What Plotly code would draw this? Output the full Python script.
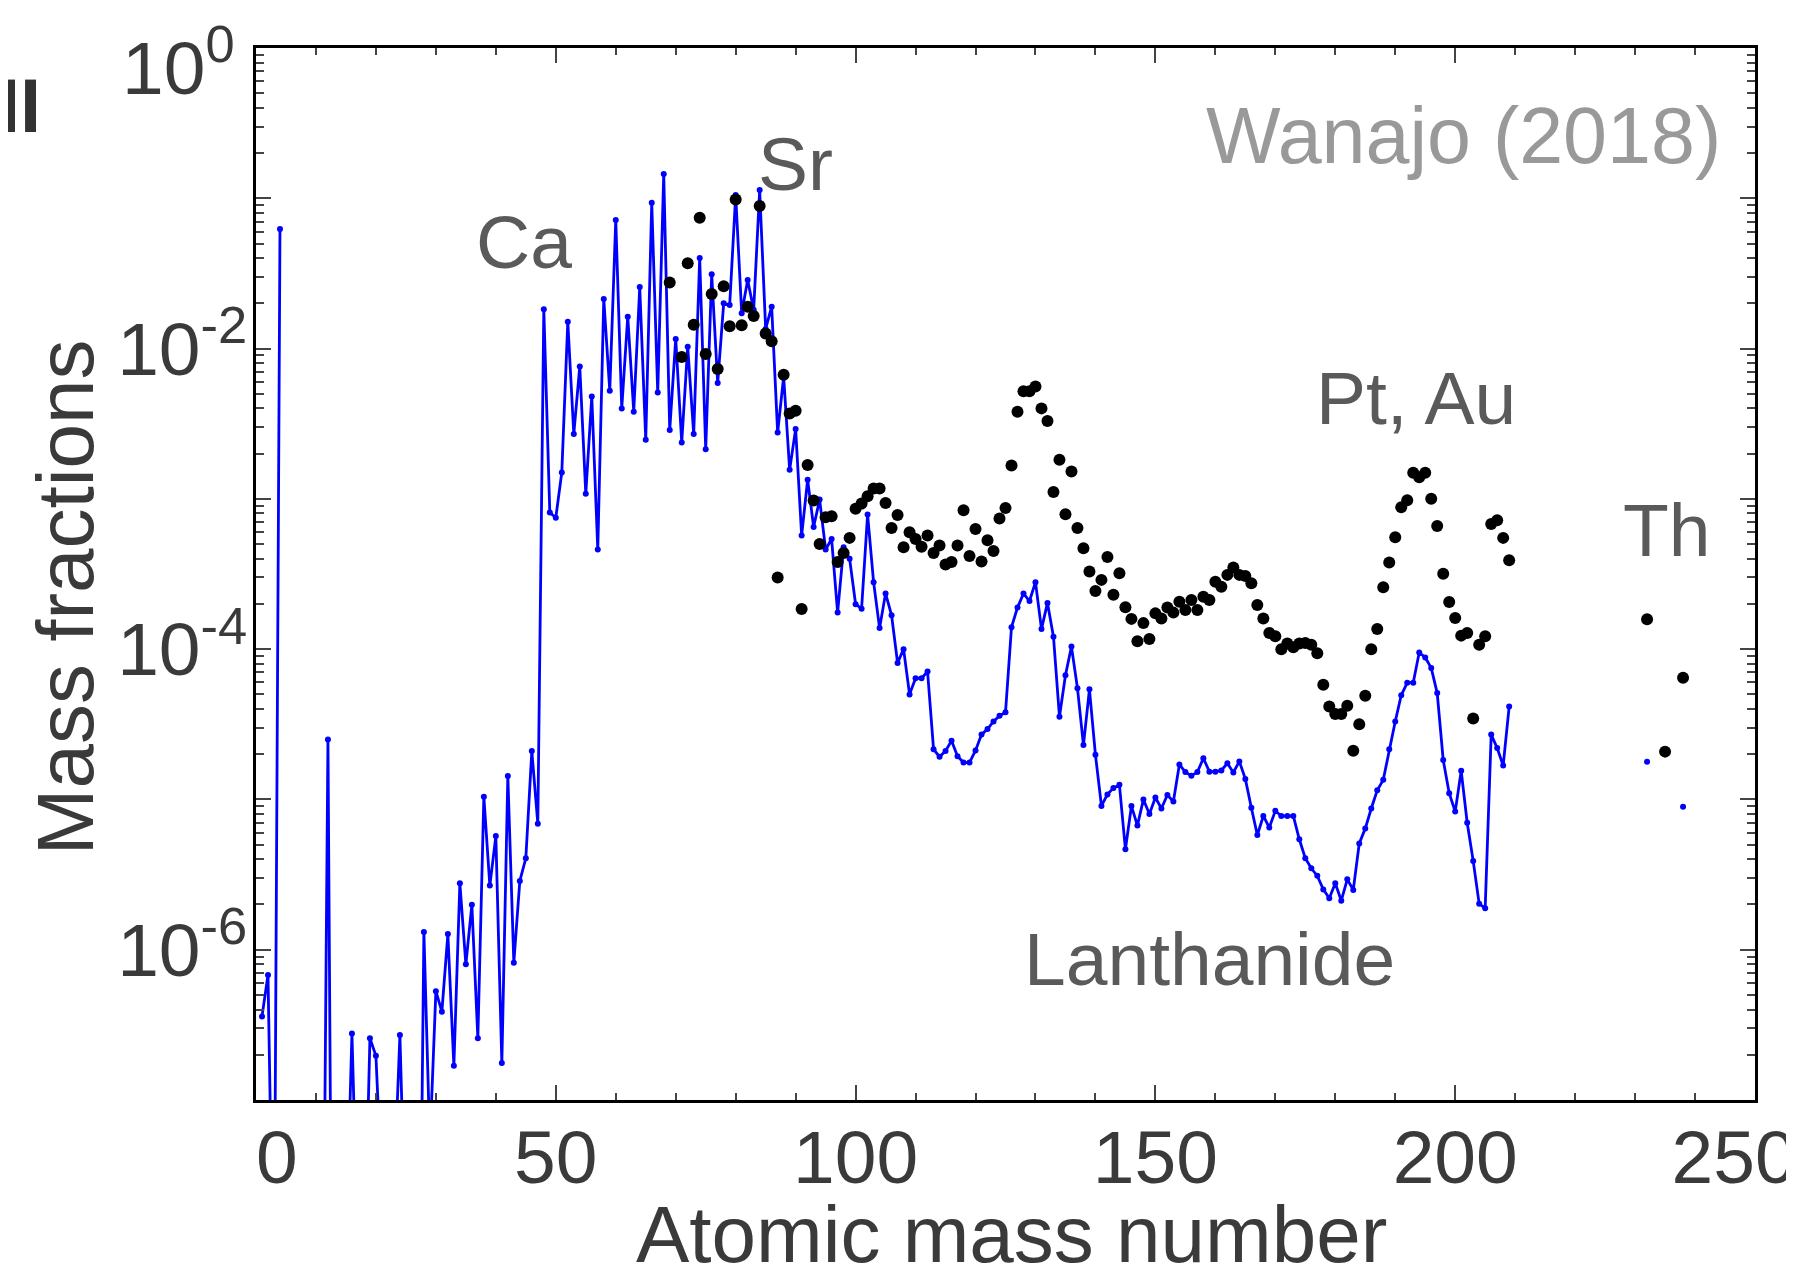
import plotly.graph_objects as go

# ---------------- data ----------------
# Blue line: model mass fractions vs atomic mass number (None = no nucleus / gap)
blue_A = list(range(1, 210)) + [210, 232, 233, 238]
blue_Y = [
    3.6e-7, 6.8e-7, 3e-9, 0.0625, None, 1e-10, 1e-10, 1e-10, 1e-10, 1e-10,      # 1-10
    4e-10, 2.5e-5, 2.5e-11, 1e-10, 1e-8, 2.77e-7, 1e-8, 6e-9, 2.58e-7, 1.97e-7,  # 11-20
    2.5e-8, 1e-9, 2.5e-8, 2.71e-7, 1e-8, 1e-9, 2.5e-10, 1.31e-6, 5e-8, 5.3e-7,   # 21-30
    3.87e-7, 1.27e-6, 1.69e-7, 2.77e-6, 8.0e-7, 1.99e-6, 2.58e-7, 1.04e-5, 2.67e-6, 5.7e-6,  # 31-40
    1.76e-7, 1.43e-5, 8.2e-7, 2.87e-6, 4.06e-6, 2.1e-5, 6.9e-6, 0.0183, 8.1e-4, 7.5e-4,  # 41-50
    1.5e-3, 0.0151, 2.7e-3, 7.6e-3, 1.08e-3, 4.8e-3, 4.6e-4, 0.0214, 5.25e-3, 0.0718,  # 51-60
    4.0e-3, 0.0163, 3.8e-3, 0.0257, 2.47e-3, 0.0935, 5.1e-3, 0.145, 2.87e-3, 0.0116,  # 61-70
    2.37e-3, 0.0103, 2.7e-3, 0.040, 2.14e-3, 0.0312, 5.9e-3, 0.020, 0.0195, 0.105,    # 71-80
    0.0172, 0.0286, 0.0181, 0.1135, 0.0135, 0.019, 2.76e-3, 6.5e-3, 1.56e-3, 2.92e-3,  # 81-90
    5.7e-4, 1.34e-3, 6.5e-4, 9.9e-4, 4.6e-4, 5.4e-4, 1.75e-4, 4.76e-4, 4.0e-4, 1.99e-4,  # 91-100
    1.86e-4, 7.86e-4, 2.79e-4, 1.38e-4, 2.35e-4, 1.68e-4, 8.1e-5, 1.0e-4, 5.0e-5, 6.4e-5,  # 101-110
    6.4e-5, 7.1e-5, 2.16e-5, 1.92e-5, 2.1e-5, 2.46e-5, 1.94e-5, 1.76e-5, 1.76e-5, 2.12e-5,  # 111-120
    2.7e-5, 2.94e-5, 3.3e-5, 3.6e-5, 3.8e-5, 1.4e-4, 1.89e-4, 2.35e-4, 2.09e-4, 2.79e-4,  # 121-130
    1.36e-4, 2.03e-4, 1.21e-4, 3.55e-5, 6.7e-5, 1.04e-4, 5.5e-5, 2.3e-5, 5.4e-5, 1.98e-5,  # 131-140
    9.05e-6, 1.08e-5, 1.19e-5, 1.25e-5, 4.66e-6, 9.05e-6, 6.7e-6, 1.0e-5, 8.0e-6, 1.03e-5,  # 141-150
    8.7e-6, 1.07e-5, 9.7e-6, 1.71e-5, 1.52e-5, 1.44e-5, 1.52e-5, 1.88e-5, 1.53e-5, 1.53e-5,  # 151-160
    1.56e-5, 1.74e-5, 1.51e-5, 1.79e-5, 1.37e-5, 8.8e-6, 5.8e-6, 7.76e-6, 6.5e-6, 8.4e-6,  # 161-170
    7.76e-6, 7.76e-6, 7.76e-6, 5.43e-6, 4.06e-6, 3.48e-6, 3.1e-6, 2.52e-6, 2.2e-6, 2.77e-6,  # 171-180
    2.12e-6, 2.94e-6, 2.5e-6, 5.1e-6, 6.4e-6, 8.7e-6, 1.15e-5, 1.35e-5, 2.16e-5, 3.3e-5,  # 181-190
    4.93e-5, 5.98e-5, 5.98e-5, 9.5e-5, 8.8e-5, 7.5e-5, 5.1e-5, 1.83e-5, 1.1e-5, 8.3e-6,  # 191-200
    1.55e-5, 7.0e-6, 3.9e-6, 2.02e-6, 1.89e-6, 2.7e-5, 2.2e-5, 1.68e-5, 4.15e-5,       # 201-209
    None, 1.78e-5, None, 8.95e-6,                                                     # gap, 232, gap, 238
]

# Black dots: reference (solar r-process) mass fractions
black_A = [69] + list(range(71, 210)) + [232, 235, 238]
black_Y = [
    0.0275,                                                                            # 69
    8.8e-3, 0.037, 0.0144, 0.0743, 9.2e-3, 0.0231, 7.3e-3, 0.026, 0.0141, 0.098,       # 71-80
    0.0143, 0.019, 0.0165, 0.089, 0.0126, 0.0112, 3.0e-4, 6.7e-3, 3.7e-3, 3.86e-3,     # 81-90
    1.85e-4, 1.68e-3, 9.75e-4, 5.0e-4, 7.55e-4, 7.65e-4, 3.8e-4, 4.37e-4, 5.5e-4, 8.6e-4,  # 91-100
    9.3e-4, 1.04e-3, 1.17e-3, 1.17e-3, 9.4e-4, 6.4e-4, 7.8e-4, 4.76e-4, 6.0e-4, 5.4e-4,  # 101-110
    4.8e-4, 5.7e-4, 4.37e-4, 4.9e-4, 3.66e-4, 3.8e-4, 4.9e-4, 8.4e-4, 4.16e-4, 6.3e-4,  # 111-120
    3.83e-4, 5.3e-4, 4.5e-4, 7.4e-4, 8.7e-4, 1.67e-3, 3.8e-3, 5.2e-3, 5.2e-3, 5.6e-3,  # 121-130
    4.0e-3, 3.3e-3, 1.11e-3, 1.82e-3, 7.9e-4, 1.52e-3, 6.4e-4, 4.7e-4, 3.28e-4, 2.44e-4,  # 131-140
    2.89e-4, 4.1e-4, 2.3e-4, 3.2e-4, 1.9e-4, 1.59e-4, 1.13e-4, 1.49e-4, 1.17e-4, 1.73e-4,  # 141-150
    1.6e-4, 1.89e-4, 1.75e-4, 2.07e-4, 1.82e-4, 2.12e-4, 1.82e-4, 2.23e-4, 2.12e-4, 2.81e-4,  # 151-160
    2.6e-4, 3.12e-4, 3.5e-4, 3.12e-4, 3.07e-4, 2.74e-4, 1.97e-4, 1.6e-4, 1.28e-4, 1.22e-4,  # 161-170
    1.0e-4, 1.09e-4, 1.03e-4, 1.09e-4, 1.1e-4, 1.07e-4, 9.4e-5, 5.8e-5, 4.15e-5, 3.7e-5,  # 171-180
    3.7e-5, 4.2e-5, 2.11e-5, 3.16e-5, 4.9e-5, 1.0e-4, 1.36e-4, 2.58e-4, 3.77e-4, 5.55e-4,  # 181-190
    8.8e-4, 9.8e-4, 1.49e-3, 1.39e-3, 1.49e-3, 1.0e-3, 6.6e-4, 3.18e-4, 2.06e-4, 1.61e-4,  # 191-200
    1.23e-4, 1.28e-4, 3.45e-5, 1.07e-4, 1.22e-4, 6.8e-4, 7.2e-4, 5.5e-4, 3.9e-4,       # 201-209
    1.58e-4, 2.08e-5, 6.45e-5,                                                         # 232, 235, 238
]

x_tick_vals = [0, 50, 100, 150, 200, 250]
x_tick_text = ["\u00a0\u00a00", "50", "100", "150", "200", "250\u00a0\u00a0"]
y_decades = [0, -1, -2, -3, -4, -5, -6, -7]
y_tick_text = ["", "", "10<sup>-2</sup>", "", "10<sup>-4</sup>", "", "10<sup>-6</sup>", ""]
y_top_label = "10<sup>0</sup>"   # drawn slightly lowered, as in the reference

labels = ["Ca", "Sr", "Pt, Au", "Th", "Lanthanide"]
label_A = [44.7, 90.0, 193.5, 235.4, 159.1]
label_log = [-1.29, -0.77, -2.33, -3.21, -6.06]

# ---------------- figure ----------------
FONT = "Liberation Sans, Arial, Helvetica, sans-serif"
fig = go.Figure()

fig.add_trace(go.Scatter(
    x=blue_A, y=blue_Y, mode="lines+markers",
    line=dict(color="#0000ff", width=2.8),
    marker=dict(color="#0000ff", size=6),
    connectgaps=False, showlegend=False, cliponaxis=True,
))
fig.add_trace(go.Scatter(
    x=black_A, y=black_Y, mode="markers",
    marker=dict(color="#000000", size=12),
    showlegend=False, cliponaxis=True,
))

y_minor = [m * 10.0 ** d for d in range(-7, 0) for m in range(2, 10)]

axis_common = dict(
    showline=True, linecolor="#000000", linewidth=2.5, mirror="ticks",
    ticks="inside", tickcolor="#444444", tickwidth=1.5, ticklen=15,
    showgrid=False, zeroline=False, automargin=False,
    tickfont=dict(family=FONT, size=75, color="#3a3a3a"),
)

fig.update_xaxes(
    range=[0, 250], tickmode="array", tickvals=x_tick_vals, ticktext=x_tick_text,
    minor=dict(dtick=10, tick0=0, ticks="inside", ticklen=7, tickwidth=1.5, tickcolor="#444444"),
    ticklabelstandoff=-10, ticklabeloverflow="allow",
    **axis_common,
)
fig.update_yaxes(
    type="log", range=[-7, 0], tickmode="array",
    tickvals=[10.0 ** d for d in y_decades], ticktext=y_tick_text,
    minor=dict(tickmode="array", tickvals=y_minor, ticks="inside", ticklen=8, tickwidth=1.5, tickcolor="#444444"),
    ticklabelstandoff=-9, ticklabeloverflow="allow",
    **axis_common,
)

annotations = []
for t, a, lg in zip(labels, label_A, label_log):
    annotations.append(dict(x=a, y=lg, xref="x", yref="y", text=t, showarrow=False,
                            xanchor="center", yanchor="middle",
                            font=dict(family=FONT, size=75, color="#5a5a5a")))
annotations.append(dict(x=244.7, y=-0.58, xref="x", yref="y", text="Wanajo (2018)", showarrow=False,
                        xanchor="right", yanchor="middle",
                        font=dict(family=FONT, size=79, color="#999999")))
annotations.append(dict(x=-0.173, y=0.945, xref="paper", yref="paper", text="<b>II</b>", showarrow=False,
                        xanchor="left", yanchor="middle",
                        font=dict(family=FONT, size=76, color="#333333")))
annotations.append(dict(x=0, y=0, xref="paper", yref="y", text=y_top_label, showarrow=False,
                        xanchor="right", yanchor="middle", xshift=-19, yshift=-14,
                        font=dict(family=FONT, size=75, color="#3a3a3a")))
# axis titles (placed as text so they sit exactly as in the reference)
annotations.append(dict(x=-0.1274, y=0.478, xref="paper", yref="paper", text="Mass fractions",
                        showarrow=False, textangle=-90, xanchor="center", yanchor="middle",
                        font=dict(family=FONT, size=80, color="#3a3a3a")))
annotations.append(dict(x=0.5043, y=-0.1274, xref="paper", yref="paper", text="Atomic mass number",
                        showarrow=False, xanchor="center", yanchor="middle",
                        font=dict(family=FONT, size=80, color="#3a3a3a")))

# the page adds an 8 px body margin: the figure is 8 px smaller and the top/left margins shifted
fig.update_layout(
    width=1786, height=1271,
    margin=dict(l=248, r=39, t=40, b=179, pad=0),
    paper_bgcolor="#ffffff", plot_bgcolor="#ffffff",
    annotations=annotations,
    showlegend=False,
)

fig.write_html("out.html")
